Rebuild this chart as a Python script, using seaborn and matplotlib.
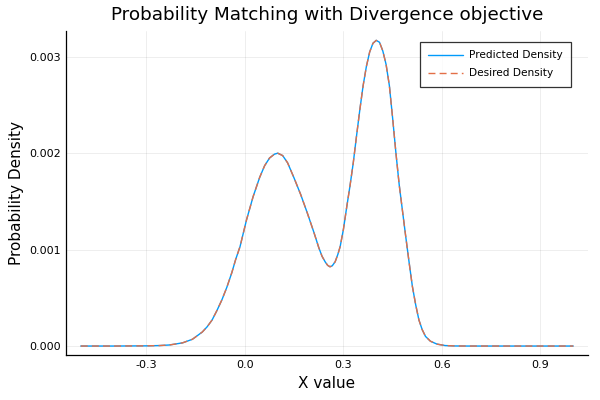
import matplotlib
matplotlib.use("Agg")
import matplotlib.pyplot as plt
import pandas as pd
import seaborn as sns

# values (density in units of 1e-3)
x_values = [-0.50, -0.40, -0.30, -0.26, -0.23, -0.19, -0.16, -0.13, -0.115, -0.10,
            -0.085, -0.07, -0.055, -0.04, -0.028, -0.015, 0.005, 0.025, 0.045, 0.06,
            0.075, 0.09, 0.10, 0.115, 0.13, 0.15, 0.17, 0.19, 0.21, 0.225,
            0.235, 0.245, 0.252, 0.259, 0.266, 0.275, 0.283, 0.29, 0.30, 0.31,
            0.32, 0.33, 0.34, 0.35, 0.36, 0.37, 0.38, 0.39, 0.40, 0.41,
            0.42, 0.43, 0.44, 0.45, 0.46, 0.47, 0.48, 0.49, 0.50, 0.51,
            0.52, 0.53, 0.54, 0.55, 0.565, 0.585, 0.61, 0.64, 0.68, 0.80, 1.00]
predicted_density = [0.0, 0.0, 0.002, 0.005, 0.011, 0.033, 0.070, 0.145, 0.20, 0.27,
                     0.37, 0.48, 0.61, 0.76, 0.90, 1.03, 1.31, 1.55, 1.75, 1.87,
                     1.95, 1.99, 2.00, 1.975, 1.90, 1.74, 1.57, 1.38, 1.18, 1.02,
                     0.93, 0.87, 0.837, 0.822, 0.832, 0.875, 0.95, 1.03, 1.21, 1.44,
                     1.66, 1.90, 2.18, 2.45, 2.70, 2.90, 3.05, 3.14, 3.17, 3.15,
                     3.06, 2.92, 2.70, 2.36, 2.00, 1.67, 1.40, 1.13, 0.87, 0.62,
                     0.43, 0.27, 0.17, 0.10, 0.05, 0.02, 0.005, 0.0008, 0.0, 0.0, 0.0]
desired_density = [0.0, 0.0, 0.002, 0.005, 0.011, 0.033, 0.070, 0.145, 0.20, 0.27,
                   0.37, 0.48, 0.61, 0.76, 0.90, 1.03, 1.31, 1.55, 1.75, 1.87,
                   1.95, 1.99, 2.00, 1.975, 1.90, 1.74, 1.57, 1.38, 1.18, 1.02,
                   0.93, 0.87, 0.837, 0.822, 0.832, 0.875, 0.95, 1.03, 1.21, 1.44,
                   1.66, 1.90, 2.18, 2.45, 2.70, 2.90, 3.05, 3.14, 3.17, 3.15,
                   3.06, 2.92, 2.70, 2.36, 2.00, 1.67, 1.40, 1.13, 0.87, 0.62,
                   0.43, 0.27, 0.17, 0.10, 0.05, 0.02, 0.005, 0.0008, 0.0, 0.0, 0.0]
series_names = ["Predicted Density", "Desired Density"]
x_ticks = [-0.3, 0.0, 0.3, 0.6, 0.9]
y_ticks = [0.0, 0.001, 0.002, 0.003]

df = pd.DataFrame({
    "x": x_values * 2,
    "y": [v * 1e-3 for v in predicted_density] + [v * 1e-3 for v in desired_density],
    "series": [series_names[0]] * len(x_values) + [series_names[1]] * len(x_values),
})

sns.set_style("white")
plt.rcParams["font.family"] = ["DejaVu Sans"]
plt.rcParams["text.color"] = "black"
plt.rcParams["axes.labelcolor"] = "black"

fig = plt.figure(figsize=(6, 4), dpi=100)
ax = fig.add_axes([66 / 600, 44.8 / 400, 522 / 600, 324 / 400])

sns.lineplot(data=df, x="x", y="y", hue="series", style="series",
             palette=["#009AFA", "#E36F47"], dashes=[(None, None), (5, 3)],
             linewidth=1.0, ax=ax, sort=False)

ax.set_xlim(-0.545, 1.045)
ax.set_ylim(-0.000095, 0.003265)
ax.set_xticks(x_ticks)
ax.set_xticklabels([f"{t:.1f}" for t in x_ticks])
ax.set_yticks(y_ticks)
ax.set_yticklabels([f"{t:.3f}" for t in y_ticks])
ax.grid(True, color="black", alpha=0.08, linewidth=0.6)
ax.tick_params(direction="in", length=4, width=0.8, labelsize=8, colors="black")

for side in ["top", "right"]:
    ax.spines[side].set_visible(False)
for side in ["left", "bottom"]:
    ax.spines[side].set_color("black")
    ax.spines[side].set_linewidth(0.9)

ax.set_title("Probability Matching with Divergence objective", fontsize=13.2, pad=8)
ax.set_xlabel("X value", fontsize=11)
ax.set_ylabel("Probability Density", fontsize=11)

leg = ax.legend(loc="upper right", bbox_to_anchor=(0.967, 0.967), fontsize=7.6,
                frameon=True, fancybox=False, handlelength=3.3, handletextpad=0.5,
                borderaxespad=0, borderpad=0.8, labelspacing=0.75, title=None)
leg.get_frame().set_edgecolor("black")
leg.get_frame().set_linewidth(0.9)

fig.savefig("out.png", dpi=100)
